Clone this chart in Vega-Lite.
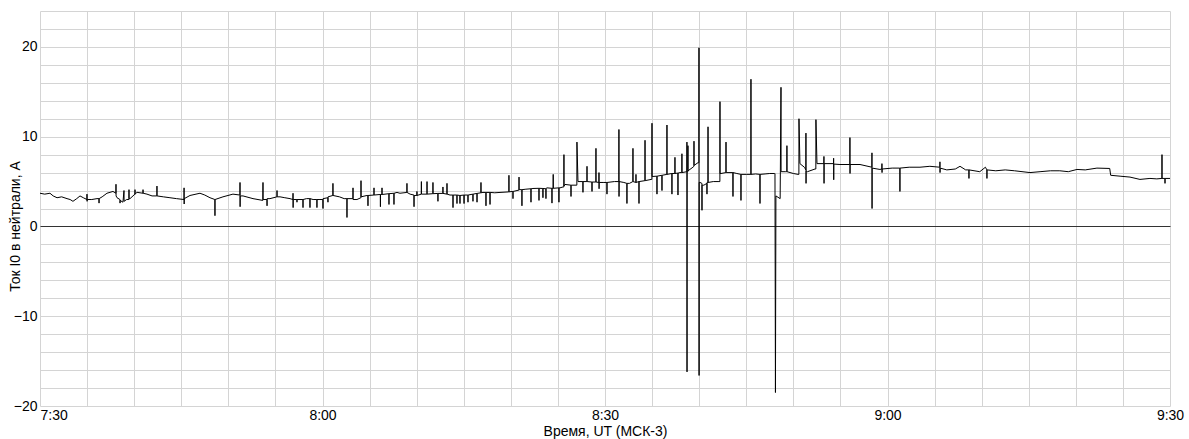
{
"$schema": "https://vega.github.io/schema/vega-lite/v6.json",
"width": 1130, "height": 395,
"autosize": {"type": "none"},
"padding": {"left": 40, "top": 11, "right": 19, "bottom": 33},
"background": "white",
"config": {"view": {"stroke": null}, "font": "Liberation Sans"},
"data": {"values": [
{"t":0,"v":3.7},{"t":0.5,"v":3.6},{"t":1.06,"v":3.7},{"t":1.4,"v":3.4},{"t":1.81,"v":3.2},{"t":2.3,"v":3.3},{"t":2.87,"v":3.1},{"t":3.2,"v":3.0},{"t":3.5,"v":2.8},{"t":3.9,"v":3.1},{"t":4.25,"v":3.4},{"t":4.6,"v":3.2},{"t":4.98,"v":3.0},{"t":4.99,"v":3.6},{"t":5.0,"v":2.8},{"t":5.01,"v":3.0},{"t":5.5,"v":3.0},{"t":6.05,"v":3.1},{"t":6.26,"v":3.1},{"t":6.27,"v":2.6},{"t":6.28,"v":3.1},{"t":6.6,"v":3.3},{"t":7.11,"v":3.7},{"t":7.75,"v":3.9},{"t":8.06,"v":3.7},{"t":8.07,"v":4.7},{"t":8.08,"v":3.4},{"t":8.18,"v":3.2},{"t":8.49,"v":3.0},{"t":8.5,"v":2.6},{"t":8.51,"v":2.9},{"t":8.81,"v":2.7},{"t":8.92,"v":4.0},{"t":8.93,"v":2.8},{"t":9.2,"v":3.0},{"t":9.44,"v":3.0},{"t":9.45,"v":4.1},{"t":9.46,"v":3.1},{"t":9.56,"v":3.1},{"t":10.08,"v":3.6},{"t":10.09,"v":4.1},{"t":10.1,"v":3.6},{"t":10.3,"v":3.8},{"t":10.93,"v":3.7},{"t":10.94,"v":4.1},{"t":10.95,"v":3.7},{"t":11.36,"v":3.6},{"t":11.9,"v":3.4},{"t":12.41,"v":3.4},{"t":12.42,"v":4.5},{"t":12.43,"v":3.4},{"t":13.1,"v":3.3},{"t":13.8,"v":3.2},{"t":14.5,"v":3.1},{"t":15.29,"v":3.0},{"t":15.3,"v":4.3},{"t":15.31,"v":2.5},{"t":15.32,"v":3.1},{"t":15.93,"v":3.45},{"t":16.99,"v":3.7},{"t":17.5,"v":3.5},{"t":18.05,"v":3.2},{"t":18.57,"v":3.0},{"t":18.58,"v":1.2},{"t":18.59,"v":3.0},{"t":19.43,"v":3.3},{"t":20.49,"v":3.6},{"t":21.23,"v":3.5},{"t":21.24,"v":4.9},{"t":21.25,"v":2.2},{"t":21.26,"v":3.4},{"t":21.56,"v":3.4},{"t":22.62,"v":3.1},{"t":23.66,"v":2.9},{"t":23.68,"v":4.9},{"t":23.69,"v":3.0},{"t":24.0,"v":3.0},{"t":24.1,"v":3.0},{"t":24.11,"v":2.3},{"t":24.12,"v":3.1},{"t":24.42,"v":3.1},{"t":25.16,"v":3.3},{"t":25.17,"v":4.0},{"t":25.18,"v":3.3},{"t":25.49,"v":3.3},{"t":26.0,"v":3.2},{"t":26.55,"v":3.1},{"t":26.86,"v":3.0},{"t":26.87,"v":3.7},{"t":26.88,"v":2.1},{"t":26.89,"v":3.0},{"t":27.28,"v":3.0},{"t":27.29,"v":2.7},{"t":27.3,"v":3.0},{"t":27.61,"v":3.0},{"t":27.92,"v":3.0},{"t":27.93,"v":2.1},{"t":27.94,"v":3.0},{"t":28.3,"v":3.1},{"t":28.66,"v":3.1},{"t":28.67,"v":2.1},{"t":28.68,"v":3.1},{"t":29.0,"v":3.0},{"t":29.4,"v":3.0},{"t":29.41,"v":2.1},{"t":29.42,"v":3.0},{"t":29.73,"v":3.0},{"t":30.04,"v":3.0},{"t":30.05,"v":2.0},{"t":30.06,"v":3.1},{"t":30.57,"v":3.2},{"t":30.58,"v":2.7},{"t":30.59,"v":3.3},{"t":31.1,"v":3.45},{"t":31.11,"v":4.8},{"t":31.12,"v":3.45},{"t":31.8,"v":3.3},{"t":32.3,"v":3.1},{"t":32.59,"v":3.1},{"t":32.6,"v":1.0},{"t":32.61,"v":3.1},{"t":33.23,"v":3.1},{"t":33.24,"v":4.3},{"t":33.25,"v":3.0},{"t":33.66,"v":3.0},{"t":34.08,"v":3.2},{"t":34.09,"v":5.1},{"t":34.1,"v":3.3},{"t":34.72,"v":3.45},{"t":34.82,"v":3.45},{"t":34.83,"v":2.3},{"t":34.84,"v":3.45},{"t":35.46,"v":3.5},{"t":35.47,"v":4.3},{"t":35.48,"v":3.5},{"t":36.1,"v":3.56},{"t":36.14,"v":3.56},{"t":36.15,"v":2.2},{"t":36.16,"v":3.56},{"t":36.31,"v":3.56},{"t":36.32,"v":4.3},{"t":36.33,"v":3.56},{"t":37.05,"v":3.65},{"t":37.06,"v":2.45},{"t":37.07,"v":3.65},{"t":37.58,"v":3.7},{"t":37.59,"v":2.45},{"t":37.6,"v":3.7},{"t":37.91,"v":3.79},{"t":38.23,"v":3.7},{"t":38.96,"v":3.79},{"t":38.97,"v":4.8},{"t":38.98,"v":3.79},{"t":39.3,"v":3.6},{"t":39.71,"v":3.5},{"t":39.72,"v":2.2},{"t":39.73,"v":3.45},{"t":40.02,"v":3.45},{"t":40.03,"v":3.9},{"t":40.04,"v":3.45},{"t":40.49,"v":3.6},{"t":40.5,"v":5.0},{"t":40.51,"v":3.6},{"t":41.09,"v":3.6},{"t":41.1,"v":5.0},{"t":41.11,"v":3.6},{"t":41.72,"v":3.65},{"t":41.73,"v":4.9},{"t":41.74,"v":3.65},{"t":42.25,"v":3.68},{"t":42.26,"v":2.8},{"t":42.27,"v":3.68},{"t":42.78,"v":3.68},{"t":42.79,"v":4.4},{"t":42.8,"v":3.68},{"t":43.21,"v":3.6},{"t":43.22,"v":4.8},{"t":43.23,"v":3.6},{"t":43.54,"v":3.5},{"t":43.85,"v":3.5},{"t":43.86,"v":2.1},{"t":43.87,"v":3.5},{"t":44.27,"v":3.5},{"t":44.28,"v":2.55},{"t":44.29,"v":3.5},{"t":44.59,"v":3.45},{"t":44.6,"v":2.55},{"t":44.61,"v":3.45},{"t":45.02,"v":3.5},{"t":45.03,"v":2.55},{"t":45.04,"v":3.5},{"t":45.44,"v":3.5},{"t":45.45,"v":2.7},{"t":45.46,"v":3.5},{"t":45.97,"v":3.6},{"t":45.98,"v":2.8},{"t":45.99,"v":3.6},{"t":46.4,"v":3.68},{"t":46.41,"v":2.7},{"t":46.42,"v":3.68},{"t":46.82,"v":3.75},{"t":46.83,"v":4.9},{"t":46.84,"v":3.75},{"t":47.04,"v":3.79},{"t":47.35,"v":3.79},{"t":47.36,"v":2.3},{"t":47.37,"v":3.79},{"t":47.78,"v":3.79},{"t":47.79,"v":2.45},{"t":47.8,"v":3.79},{"t":48.3,"v":3.75},{"t":48.85,"v":3.79},{"t":49.79,"v":3.85},{"t":49.8,"v":5.7},{"t":49.81,"v":3.85},{"t":50.12,"v":3.9},{"t":50.22,"v":3.9},{"t":50.23,"v":3.1},{"t":50.24,"v":3.9},{"t":50.86,"v":4.05},{"t":50.87,"v":5.5},{"t":50.88,"v":4.1},{"t":51.17,"v":4.1},{"t":51.18,"v":2.3},{"t":51.19,"v":4.1},{"t":51.6,"v":4.15},{"t":52.13,"v":4.2},{"t":52.14,"v":2.7},{"t":52.15,"v":4.2},{"t":52.35,"v":4.23},{"t":52.98,"v":4.25},{"t":52.99,"v":2.9},{"t":53.0,"v":4.25},{"t":53.4,"v":4.23},{"t":53.41,"v":3.2},{"t":53.42,"v":4.23},{"t":53.72,"v":4.2},{"t":53.73,"v":3.1},{"t":53.74,"v":4.23},{"t":53.84,"v":4.3},{"t":54.36,"v":4.25},{"t":54.37,"v":2.6},{"t":54.38,"v":4.25},{"t":54.49,"v":4.25},{"t":54.5,"v":5.8},{"t":54.51,"v":4.25},{"t":55.1,"v":4.3},{"t":55.11,"v":2.7},{"t":55.12,"v":4.3},{"t":55.22,"v":4.3},{"t":55.54,"v":4.4},{"t":55.63,"v":4.4},{"t":55.64,"v":8.0},{"t":55.65,"v":4.5},{"t":55.75,"v":4.68},{"t":56.38,"v":4.6},{"t":56.39,"v":3.34},{"t":56.4,"v":4.6},{"t":57.01,"v":4.6},{"t":57.02,"v":9.4},{"t":57.13,"v":5.0},{"t":57.65,"v":5.0},{"t":57.66,"v":3.8},{"t":57.67,"v":5.0},{"t":58.08,"v":5.0},{"t":58.09,"v":6.7},{"t":58.1,"v":5.0},{"t":58.61,"v":4.95},{"t":58.62,"v":3.9},{"t":58.63,"v":4.95},{"t":59.03,"v":4.95},{"t":59.04,"v":8.7},{"t":59.05,"v":4.95},{"t":59.35,"v":4.9},{"t":59.36,"v":6.0},{"t":59.37,"v":4.2},{"t":59.38,"v":4.9},{"t":59.8,"v":4.9},{"t":60.2,"v":4.9},{"t":60.21,"v":3.6},{"t":60.22,"v":4.9},{"t":61.0,"v":5.0},{"t":61.47,"v":5.0},{"t":61.48,"v":10.8},{"t":61.49,"v":3.34},{"t":61.5,"v":5.0},{"t":62.0,"v":4.9},{"t":62.32,"v":4.8},{"t":62.33,"v":2.56},{"t":62.34,"v":4.8},{"t":62.6,"v":4.8},{"t":62.96,"v":5.0},{"t":62.97,"v":8.7},{"t":62.98,"v":5.0},{"t":63.28,"v":4.9},{"t":63.29,"v":5.8},{"t":63.3,"v":4.9},{"t":63.6,"v":5.0},{"t":63.61,"v":2.56},{"t":63.62,"v":5.0},{"t":64.24,"v":5.1},{"t":64.25,"v":9.6},{"t":64.26,"v":5.1},{"t":64.9,"v":5.24},{"t":64.98,"v":5.24},{"t":64.99,"v":11.5},{"t":65.0,"v":5.57},{"t":65.1,"v":5.57},{"t":65.51,"v":5.6},{"t":65.52,"v":3.6},{"t":65.53,"v":5.6},{"t":66.04,"v":5.7},{"t":66.05,"v":4.0},{"t":66.06,"v":5.7},{"t":66.57,"v":5.8},{"t":66.58,"v":11.3},{"t":66.59,"v":5.8},{"t":67.1,"v":5.9},{"t":67.11,"v":3.6},{"t":67.12,"v":5.9},{"t":67.42,"v":5.9},{"t":67.43,"v":7.7},{"t":67.44,"v":5.9},{"t":67.74,"v":5.95},{"t":67.75,"v":3.5},{"t":67.76,"v":5.95},{"t":67.96,"v":6.0},{"t":68.16,"v":6.0},{"t":68.17,"v":8.1},{"t":68.18,"v":6.0},{"t":68.69,"v":6.1},{"t":68.7,"v":9.4},{"t":68.71,"v":-16.2},{"t":68.72,"v":6.1},{"t":68.8,"v":6.1},{"t":68.81,"v":9.0},{"t":68.82,"v":6.2},{"t":69.34,"v":6.6},{"t":69.44,"v":6.7},{"t":69.45,"v":9.5},{"t":69.46,"v":6.8},{"t":69.87,"v":7.1},{"t":69.97,"v":7.1},{"t":69.98,"v":19.9},{"t":69.99,"v":-16.6},{"t":70.0,"v":4.9},{"t":70.09,"v":4.9},{"t":70.29,"v":4.8},{"t":70.3,"v":1.8},{"t":70.31,"v":4.6},{"t":70.5,"v":4.6},{"t":70.82,"v":4.8},{"t":70.83,"v":3.6},{"t":70.84,"v":4.9},{"t":70.93,"v":4.9},{"t":70.94,"v":11.1},{"t":70.95,"v":4.9},{"t":71.5,"v":5.0},{"t":72.1,"v":5.0},{"t":72.2,"v":5.0},{"t":72.21,"v":13.9},{"t":72.22,"v":5.9},{"t":72.32,"v":5.9},{"t":72.84,"v":6.0},{"t":72.85,"v":9.4},{"t":72.86,"v":6.0},{"t":73.58,"v":6.0},{"t":73.59,"v":3.34},{"t":73.6,"v":6.0},{"t":74.0,"v":5.9},{"t":74.43,"v":5.8},{"t":74.44,"v":2.9},{"t":74.45,"v":5.8},{"t":75.0,"v":5.8},{"t":75.49,"v":5.8},{"t":75.5,"v":16.4},{"t":75.51,"v":5.8},{"t":76.0,"v":5.85},{"t":76.45,"v":5.8},{"t":76.46,"v":2.56},{"t":76.47,"v":5.8},{"t":77.0,"v":5.85},{"t":77.5,"v":5.9},{"t":78.0,"v":5.9},{"t":78.05,"v":5.9},{"t":78.1,"v":-18.5},{"t":78.15,"v":3.4},{"t":78.6,"v":3.1},{"t":78.69,"v":15.5},{"t":78.7,"v":6.1},{"t":79.2,"v":6.1},{"t":79.31,"v":6.1},{"t":79.32,"v":9.0},{"t":79.33,"v":6.1},{"t":80.0,"v":5.9},{"t":80.5,"v":5.8},{"t":80.59,"v":5.8},{"t":80.6,"v":12.0},{"t":80.7,"v":7.0},{"t":81.2,"v":6.57},{"t":81.33,"v":6.3},{"t":81.34,"v":10.4},{"t":81.35,"v":4.8},{"t":81.36,"v":6.2},{"t":81.5,"v":6.1},{"t":82.3,"v":6.4},{"t":82.39,"v":6.4},{"t":82.4,"v":11.9},{"t":82.51,"v":7.0},{"t":83.24,"v":7.0},{"t":83.25,"v":7.8},{"t":83.26,"v":4.8},{"t":83.27,"v":7.0},{"t":84.27,"v":7.0},{"t":84.28,"v":7.6},{"t":84.29,"v":5.2},{"t":84.3,"v":6.95},{"t":84.95,"v":6.9},{"t":86.0,"v":6.9},{"t":86.01,"v":9.9},{"t":86.02,"v":5.9},{"t":86.03,"v":6.9},{"t":87.08,"v":6.9},{"t":88.34,"v":6.6},{"t":88.35,"v":8.2},{"t":88.36,"v":2.0},{"t":88.37,"v":6.5},{"t":89.2,"v":6.35},{"t":89.4,"v":6.4},{"t":89.41,"v":7.0},{"t":89.42,"v":6.0},{"t":89.43,"v":6.4},{"t":90.5,"v":6.5},{"t":91.31,"v":6.5},{"t":91.32,"v":3.9},{"t":91.33,"v":6.5},{"t":92.3,"v":6.6},{"t":93.45,"v":6.6},{"t":94.5,"v":6.7},{"t":95.56,"v":6.6},{"t":95.57,"v":7.2},{"t":95.58,"v":6.0},{"t":95.59,"v":6.5},{"t":96.3,"v":6.3},{"t":97.2,"v":6.4},{"t":97.7,"v":6.7},{"t":98.3,"v":6.3},{"t":98.64,"v":6.3},{"t":98.65,"v":5.35},{"t":98.66,"v":6.3},{"t":99.8,"v":6.1},{"t":100.4,"v":6.6},{"t":100.55,"v":6.3},{"t":100.56,"v":5.35},{"t":100.57,"v":6.3},{"t":101.5,"v":6.2},{"t":102.5,"v":6.3},{"t":103.5,"v":6.2},{"t":105.13,"v":6.0},{"t":106.2,"v":6.1},{"t":107.3,"v":6.2},{"t":108.3,"v":6.2},{"t":109.2,"v":6.1},{"t":110.12,"v":6.35},{"t":111.0,"v":6.3},{"t":112.24,"v":6.5},{"t":113.6,"v":6.46},{"t":113.7,"v":5.7},{"t":114.7,"v":5.6},{"t":115.75,"v":5.5},{"t":116.81,"v":5.24},{"t":117.87,"v":5.35},{"t":118.6,"v":5.3},{"t":119.14,"v":5.35},{"t":119.15,"v":8.0},{"t":119.16,"v":5.35},{"t":119.46,"v":5.35},{"t":119.47,"v":4.8},{"t":119.48,"v":5.35},{"t":120,"v":5.35}
]},
"mark": {"type": "line", "color": "black", "strokeWidth": 1, "strokeJoin": "bevel", "interpolate": "linear", "clip": true},
"encoding": {
  "x": {"field": "t", "type": "quantitative", "scale": {"domain": [0, 120], "nice": false, "zero": false},
    "axis": {"values": [0,5,10,15,20,25,30,35,40,45,50,55,60,65,70,75,80,85,90,95,100,105,110,115,120],
      "labelExpr": "datum.value % 30 == 0 ? (floor((450 + datum.value) / 60) + ':' + (((450 + datum.value) % 60) < 10 ? '0' : '') + ((450 + datum.value) % 60)) : ''",
      "title": "Время, UT (МСК-3)", "grid": true, "gridColor": "#d4d4d4", "gridWidth": 1, "domain": false, "ticks": false,
      "labelPadding": 2, "labelFontSize": 14, "labelColor": "black", "labelOverlap": false, "labelBound": false, "labelFlush": false,
      "labelAlign": {"condition": {"test": "datum.value == 0", "value": "left"}, "value": "center"},
      "titleFontSize": 14, "titleFontWeight": "normal", "titleColor": "black", "titlePadding": 2}},
  "y": {"field": "v", "type": "quantitative", "scale": {"domain": [-20, 24], "nice": false, "zero": false},
    "axis": {"values": [-20,-18,-16,-14,-12,-10,-8,-6,-4,-2,0,2,4,6,8,10,12,14,16,18,20,22,24],
      "labelExpr": "datum.value % 10 == 0 ? datum.label : ''",
      "title": "Ток I0 в нейтрали, А", "grid": true,
      "gridColor": {"condition": {"test": "datum.value == 0", "value": "#333333"}, "value": "#d4d4d4"}, "gridWidth": 1,
      "domain": false, "ticks": false, "labelPadding": 3, "labelFontSize": 14, "labelColor": "black", "labelOverlap": false, "labelBound": false, "labelFlush": false,
      "titleFontSize": 14, "titleFontWeight": "normal", "titleColor": "black", "titleX": -25, "titleY": 215, "titleBaseline": "middle", "titleAngle": -90}}
}
}
